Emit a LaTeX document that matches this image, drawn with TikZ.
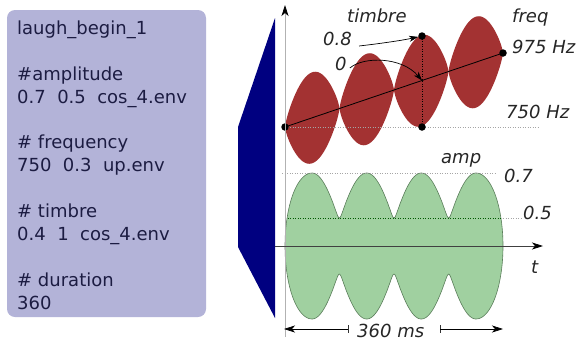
\documentclass[tikz,border=0pt]{standalone}
\usepackage{fontspec}
\setmainfont{DejaVu Sans}
\usetikzlibrary{arrows.meta}
\definecolor{boxfill}{RGB}{179,179,216}
\definecolor{boxtext}{RGB}{28,28,66}
\definecolor{navyblue}{RGB}{0,0,128}
\definecolor{lobered}{RGB}{163,50,50}
\definecolor{ampgreen}{RGB}{160,208,160}
\definecolor{ampedge}{RGB}{90,125,90}
\begin{document}
\begin{tikzpicture}[x=1pt,y=-1pt,
  boxline/.style={anchor=base west, inner sep=0pt, text=boxtext, font=\fontsize{18}{22}\selectfont},
  lab/.style={anchor=base west, inner sep=0pt, text=black!85, font=\fontsize{18}{22}\selectfont\itshape},
  dotmark/.style={circle, fill=black, inner sep=0pt, minimum size=7.5pt},
  bigtip/.style={-{Stealth[length=11pt,width=7pt,inset=3pt,color=black]}},
  smalltip/.style={-{Stealth[length=9pt,width=6pt,inset=2.5pt]}},
  guide/.style={gray!70, line width=0.6pt, dash pattern=on 1pt off 1.5pt},
  declare function={env(\z)=(pow(cos(\z)*cos(\z)+0.012,0.42)-0.1564)/(1.0050-0.1564);}]
\useasboundingbox (0,0) rectangle (578,341);

% text box
\fill[boxfill, rounded corners=8pt] (7,10) rectangle (206,317);
\node[boxline] (t1) at (17,34.3) {laugh\_begin\_1};
\node[boxline] (t2) at (17,80.1) {\#amplitude};
\node[boxline] (t3) at (17,103.0) {0.7\ \ 0.5\ \ cos\_4.env};
\node[boxline] (t4) at (17,148.8) {\# frequency};
\node[boxline] (t5) at (17,171.7) {750\ \ 0.3\ \ up.env};
\node[boxline] (t6) at (17,217.5) {\# timbre};
\node[boxline] (t7) at (17,240.4) {0.4\ \ 1\ \ cos\_4.env};
\node[boxline] (t8) at (17,286.2) {\# duration};
\node[boxline] (t9) at (17,309.1) {360};

% blue funnel
\fill[navyblue] (275,18) -- (238,127) -- (238,247) -- (275,318) -- cycle;

% frequency / timbre lobes
\foreach \k in {0,1,2,3}{
  \pgfmathsetmacro{\xa}{285+54.5*\k}
  \fill[lobered]
    plot[variable=\u, domain=0.5:179.5, samples=60]
      ({\xa+54.5*\u/180}, {127-0.33945*(54.5*\k+54.5*\u/180) - 45.5*pow(sin(\u),0.75)})
    -- plot[variable=\u, domain=179.5:0.5, samples=60]
      ({\xa+54.5*\u/180}, {127-0.33945*(54.5*\k+54.5*\u/180) + 45.5*pow(sin(\u),0.75)})
    -- cycle;
}

% amplitude shape
\filldraw[fill=ampgreen, draw=ampedge, line width=0.6pt]
  plot[variable=\t, domain=180:90, samples=25] ({312+27*cos(\t)}, {246-73*sin(\t)})
  -- plot[domain=312:476, samples=161] (\x, {218-45*env((\x-312)*3.29268)})
  -- plot[variable=\t, domain=90:0, samples=25] ({476+27*cos(\t)}, {246-73*sin(\t)})
  -- plot[variable=\t, domain=360:270, samples=25] ({476+27*cos(\t)}, {246-73*sin(\t)})
  -- plot[domain=476:312, samples=161] (\x, {274+45*env((\x-312)*3.29268)})
  -- plot[variable=\t, domain=270:180, samples=25] ({312+27*cos(\t)}, {246-73*sin(\t)})
  -- cycle;

% guide lines
\coordinate (g1a) at (285,127); \coordinate (g1b) at (540,127);
\coordinate (g2a) at (282,173); \coordinate (g2b) at (496,173);
\coordinate (g3a) at (285,218); \coordinate (g3m) at (503,218); \coordinate (g3b) at (521,218);
\draw[guide] (g1a) -- (g1b);
\draw[guide] (g2a) -- (g2b);
\draw[guide, green!35!black] (g3a) -- (g3m);
\draw[guide] (g3m) -- (g3b);

% frequency line and dots
\node[dotmark] (f0) at (285,127) {};
\node[dotmark] (f1) at (503,53) {};
\node[dotmark] (tt) at (422,36) {};
\node[dotmark] (tb) at (422,127) {};
\coordinate (tm) at (422,80.5);
\draw[black, line width=0.8pt] (f0.center) -- (f1.center);
\draw[black, line width=0.6pt, dash pattern=on 1pt off 1.5pt] (tt.center) -- (tb.center);

% axes
\coordinate (yb) at (285,337); \coordinate (yt) at (285,5);
\coordinate (xl) at (275,246); \coordinate (xr) at (543,246);
\draw[gray!60, line width=0.8pt, bigtip] (yb) -- (yt);
\draw[black!75, line width=0.8pt, bigtip] (xl) -- (xr);

% duration arrows
\coordinate (dl) at (348,329); \coordinate (dr) at (440,329);
\coordinate (dle) at (284,329); \coordinate (dre) at (503,329);
\draw[black!80, line width=0.7pt] ([yshift=4pt]dl) -- ([yshift=-4pt]dl);
\draw[black!80, line width=0.7pt] ([yshift=4pt]dr) -- ([yshift=-4pt]dr);
\draw[black, line width=0.7pt, bigtip] (dl) -- (dle);
\draw[black, line width=0.7pt, bigtip] (dr) -- (dre);

% labels
\node[lab] (ltim) at (347,22) {timbre};
\node[lab] (lfrq) at (512,22) {freq};
\node[lab] (l08) at (323,45) {0.8};
\node[lab] (l0) at (335,70) {0};
\node[lab] (l975) at (512,53) {975 Hz};
\node[lab] (l750) at (506,118) {750 Hz};
\node[lab] (lamp) at (441,163) {amp};
\node[lab] (l07) at (504,182) {0.7};
\node[lab] (l05) at (523,219) {0.5};
\node[lab] (lt) at (531,273) {t};
\node[lab] (ldur) at (357,337) {360 ms};

% timbre arrows
\draw[black, line width=0.7pt, smalltip] ([xshift=7pt,yshift=-1pt]l08.base east) .. controls (385,43) and (404,40) .. (tt);
\draw[black, line width=0.7pt, smalltip] ([xshift=3pt,yshift=2pt]l0.base east) .. controls (364,56) and (402,57) .. (tm);
\end{tikzpicture}
\end{document}
